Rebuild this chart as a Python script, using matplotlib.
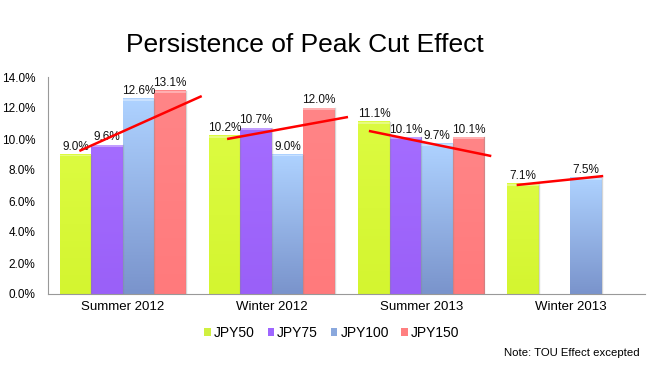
import numpy as np
import matplotlib
matplotlib.use("Agg")
import matplotlib.pyplot as plt
from matplotlib.colors import LinearSegmentedColormap
from matplotlib.patches import Patch

categories = ["Summer 2012", "Winter 2012", "Summer 2013", "Winter 2013"]
series_names = ["JPY50", "JPY75", "JPY100", "JPY150"]
jpy50 = [9.0, 10.2, 11.1, 7.1]
jpy75 = [9.6, 10.7, 10.1, np.nan]
jpy100 = [12.6, 9.0, 9.7, 7.5]
jpy150 = [13.1, 12.0, 10.1, np.nan]
series = [jpy50, jpy75, jpy100, jpy150]

# red trend lines (x in category units, y in %)
trend_x0 = [-0.29, 0.70, 1.65, 2.64]
trend_y0 = [9.23, 10.0, 10.52, 7.03]
trend_x1 = [0.53, 1.51, 2.47, 3.22]
trend_y1 = [12.77, 11.42, 8.9, 7.61]

yticks = [0, 2, 4, 6, 8, 10, 12, 14]

colors_top = ["#dcfb40", "#a46cff", "#aed2ff", "#ff8587"]
colors_bot = ["#d4f530", "#9a60f8", "#7a94cc", "#ff7a7c"]
legend_colors = ["#d0f040", "#9e66ff", "#8aa8dd", "#ff7f80"]

plt.rcParams['font.family'] = ['Liberation Sans', 'DejaVu Sans']

fig = plt.figure(figsize=(6.49, 3.66), dpi=100)
ax = fig.add_axes([48/649, 1-294/366, 597/649, 217/366])

w = 0.211
x = np.arange(len(categories))
for si, vals in enumerate(series):
    off = (si - 1.5) * w
    cmap = LinearSegmentedColormap.from_list("g%d" % si, [colors_bot[si], colors_top[si]])
    for ci, v in enumerate(vals):
        if np.isnan(v):
            continue
        x0 = x[ci] + off - w/2
        x1 = x[ci] + off + w/2
        grad = np.linspace(0, 1, 64).reshape(-1, 1)
        ax.imshow(grad, extent=[x0, x1, 0, v], origin="lower", cmap=cmap,
                  aspect="auto", zorder=2, interpolation="bilinear")
        ax.fill_between([x0, x1], v - 0.12, v, color="white", alpha=0.35, zorder=2.5, linewidth=0)
        ax.plot([x1, x1], [0, v], color="#888888", alpha=0.35, lw=1, zorder=2.6)
        ax.text(x[ci] + off, v + 0.12, "%.1f%%" % v, ha="center", va="bottom",
                fontsize=8.5, color="#111111", zorder=4)

for i in range(len(trend_x0)):
    ax.plot([trend_x0[i], trend_x1[i]], [trend_y0[i], trend_y1[i]], color="#ff0000", lw=1.8, zorder=5,
            solid_capstyle="butt")

ax.set_xlim(-0.5, len(categories) - 0.5)
ax.set_ylim(0, 14)
ax.set_yticks(yticks)
ax.set_yticklabels(["%.1f%%" % t for t in yticks], fontsize=8.5)
ax.set_xticks(x)
ax.set_xticklabels(categories, fontsize=9.5)
ax.tick_params(axis="both", length=0, pad=5)
ax.tick_params(axis="y", pad=9)
for s in ["top", "right"]:
    ax.spines[s].set_visible(False)
ax.spines["left"].set_color("#999999")
ax.spines["bottom"].set_color("#999999")

fig.text(305/649, 1-45/366, "Persistence of Peak Cut Effect", ha="center", va="center", fontsize=19)

handles = [Patch(facecolor=c, edgecolor="none") for c in legend_colors]
fig.legend(handles, series_names, loc="center", bbox_to_anchor=(332/649, 1-333/366), ncol=4,
           frameon=False, fontsize=10, handlelength=0.45, handleheight=0.45, handletextpad=0.25,
           columnspacing=0.9)

fig.text(640/649, 1-353/366, "Note: TOU Effect excepted", ha="right", va="center", fontsize=8.2)

fig.savefig("out.png", dpi=100)
